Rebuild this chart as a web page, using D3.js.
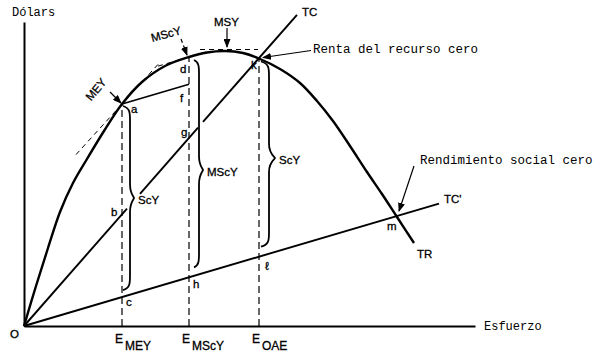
<!DOCTYPE html>
<html><head><meta charset="utf-8">
<script src="https://cdn.jsdelivr.net/npm/d3@7"></script>
<style>
body{margin:0;background:#fff}
svg{display:block}
.mono{font-family:"Liberation Mono","DejaVu Sans Mono",monospace;font-size:12.5px;fill:#000}
.sans{font-family:"Liberation Sans",Arial,sans-serif;font-size:11.5px;fill:#000;stroke:#000;stroke-width:0.3px}
</style>
</head><body>
<svg id="c" width="600" height="354"></svg>
<script>
// ---- data (arbitrary units) ----
const effort  = [0,1.2,2.4,3.6,4.9,6.3,8.0,9.8,11.8,14.1,16.5,18.3,20.1,21.9,23.5,25.6,27.6,29.3,30.9,32.6,34.3,35.8,37.3,39.0];
const revenue = [0,4.0,7.8,11.4,14.3,16.7,19.5,22.2,24.4,26.0,26.9,27.35,27.5,27.3,26.75,25.7,24.3,22.5,20.5,18.0,15.4,13.2,10.9,8.3];
const levelNames  = ["MEY","MScY","OAE"];
const levelEffort = [9.8,16.5,23.5];
const tcSlope = 1.14, tcEnd = 27.3;           // TC
const tcSegments = [[0,10.3],[11.6,17.4],[17.9,27.3]];
const tcpSlope = 0.295, tcpEnd = 41.5;        // TC'
const msyEffort = 20.3, msyRevenue = 27.65;
const eMSY = 27.5;

const svg = d3.select("#c");
const x = d3.scaleLinear([0,45.1],[24,475]);
const y = d3.scaleLinear([0,30.4],[326,22]);
const TR = d3.scaleLinear(effort, revenue);   // piecewise lookup along TR

// arrow marker
svg.append("defs").append("marker")
  .attr("id","arr").attr("markerUnits","userSpaceOnUse")
  .attr("markerWidth",9).attr("markerHeight",7).attr("refX",8).attr("refY",3.5)
  .attr("orient","auto")
  .append("path").attr("d","M0,0L9,3.5L0,7Z").attr("fill","#000");

// axes
svg.append("g").attr("transform","translate(0,326)")
  .call(d3.axisBottom(x).tickValues([]).tickSizeOuter(0));
svg.append("g").attr("transform","translate(24,0)")
  .call(d3.axisLeft(y).tickValues([]).tickSizeOuter(0));
svg.selectAll(".domain").attr("stroke","#000").attr("stroke-width",2);

const line = d3.line().x(d=>x(d[0])).y(d=>y(d[1]));

// vertical dashed lines
levelEffort.forEach(e=>{
  svg.append("path").attr("d",line([[e,0],[e,TR(e)]]))
    .attr("fill","none").attr("stroke","#000").attr("stroke-width",1.2)
    .attr("stroke-dasharray","7,4");
});

// tangents (dashed)
const eA = levelEffort[0], eD = levelEffort[1], eK = levelEffort[2];
const tang = [
  [[5.2, TR(eA)-1.1*(eA-5.2)],[13.4, TR(eA)+1.1*(13.4-eA)]],
  [[13.4, TR(eD)-tcpSlope*(eD-13.4)],[18.3, TR(eD)+tcpSlope*(18.3-eD)]],
  [[17.6, msyRevenue],[23.4, msyRevenue]]
];
tang.forEach(t=>svg.append("path").attr("d",line(t))
  .attr("fill","none").attr("stroke","#000").attr("stroke-width",1)
  .attr("stroke-dasharray","5,4"));

// TC (with gaps)
tcSegments.forEach(s=>svg.append("path")
  .attr("d",line([[s[0],tcSlope*s[0]],[s[1],tcSlope*s[1]]]))
  .attr("stroke","#000").attr("stroke-width",1.9));
// TC'
svg.append("path").attr("d",line([[0,0],[tcpEnd,tcpSlope*tcpEnd]]))
  .attr("stroke","#000").attr("stroke-width",1.9);
// a - f line (parallel to TC')
const fRev = TR(eA)+tcpSlope*(eD-eA);
svg.append("path").attr("d",line([[eA,TR(eA)],[eD,fRev]]))
  .attr("stroke","#000").attr("stroke-width",1.6);

// TR curve
svg.append("path").datum(effort.map((e,i)=>[e,revenue[i]]))
  .attr("d",line.curve(d3.curveCatmullRom.alpha(0.5)))
  .attr("fill","none").attr("stroke","#000").attr("stroke-width",2.4);
line.curve(d3.curveLinear);

// braces
function brace(x0,y1,y2,w,t,ym){
  const q = 14;
  return `M${x0},${y1} C${x0+w},${y1+2} ${x0+w},${y1+q*0.5} ${x0+w},${y1+q} `+
    `L${x0+w},${ym-q} C${x0+w},${ym-4} ${x0+w+t},${ym-1} ${x0+w+t},${ym} `+
    `C${x0+w+t},${ym+1} ${x0+w},${ym+4} ${x0+w},${ym+q} `+
    `L${x0+w},${y2-q} C${x0+w},${y2-q*0.5} ${x0+w},${y2-2} ${x0},${y2}`;
}
const braces = [
  {x0:x(eA)+1, y1:y(TR(eA))+2, y2:y(tcpSlope*eA)-7, w:7, t:4, ym:198, label:"ScY"},
  {x0:x(eD)+5, y1:y(TR(eD))+3, y2:y(tcpSlope*eD)-10, w:5, t:4, ym:170, label:"MScY"},
  {x0:x(eK)+2, y1:y(TR(eK))+3, y2:y(tcpSlope*eK)-10, w:8, t:6, ym:158, label:"ScY"}
];
braces.forEach(b=>{
  svg.append("path").attr("d",brace(b.x0,b.y1,b.y2,b.w,b.t,b.ym))
    .attr("fill","none").attr("stroke","#000").attr("stroke-width",1.8);
  svg.append("text").attr("class","sans").attr("x",b.x0+b.w+b.t+4).attr("y",b.ym+6).text(b.label);
});

// arrows
function arrow(x1,y1,x2,y2,dash){
  svg.append("line").attr("x1",x1).attr("y1",y1).attr("x2",x2).attr("y2",y2)
    .attr("stroke","#000").attr("stroke-width",1.2)
    .attr("stroke-dasharray",dash||null).attr("marker-end","url(#arr)");
}
const pa=[x(eA),y(TR(eA))], pd=[x(eD),y(TR(eD))], pk=[x(eK),y(TR(eK))];
const eM = 37.3, pm=[x(eM),y(tcpSlope*eM)];
arrow(pa[0]-12,pa[1]-12,pa[0]-1,pa[1]-1);
arrow(pd[0]-8,pd[1]-18,pd[0]-2,pd[1]-2,"4,3");
arrow(x(msyEffort),28,x(msyEffort),y(eMSY)-4);
arrow(pk[0]+52,pk[1]-8,pk[0]+4,pk[1]-1);
arrow(pm[0]+17,pm[1]-50,pm[0]+2,pm[1]-5);

// text
const T=(cls,xx,yy,s)=>svg.append("text").attr("class",cls).attr("x",xx).attr("y",yy).text(s);
T("mono",12,16,"Dólars").style("font-size","12px");
T("mono",484,330,"Esfuerzo").style("font-size","12px");
T("mono",313,53,"Renta del recurso cero");
T("mono",420,164,"Rendimiento social cero");
T("sans",302,16,"TC");
T("sans",444,203,"TC'");
T("sans",417,258,"TR");
T("sans",214,26,"MSY");
T("sans",10,338,"O");
svg.append("text").attr("class","sans").attr("text-anchor","middle")
  .attr("transform","translate(167,38) rotate(-15)").text("MScY");
svg.append("text").attr("class","sans").attr("text-anchor","middle")
  .attr("transform","translate(99,92) rotate(-50)").text("MEY");

// point labels
const pts = [
  ["a",pa[0]+9,pa[1]+9],
  ["b",x(eA)-11,y(tcSlope*eA)+2],
  ["c",x(eA)+4,y(tcpSlope*eA)+9],
  ["d",pd[0]-9,pd[1]+16],
  ["f",x(eD)-9,y(fRev)+18],
  ["g",x(eD)-8,y(tcSlope*eD)-2],
  ["h",x(eD)+4,y(tcpSlope*eD)+11],
  ["k",pk[0]-8,pk[1]+10],
  ["ℓ",x(eK)+6,y(tcpSlope*eK)+13],
  ["m",pm[0]-10,pm[1]+14]
];
pts.forEach(p=>T("sans",p[1],p[2],p[0]));

// E labels with subscripts
levelEffort.forEach((e,i)=>{
  const t = svg.append("text").attr("class","sans").attr("x",x(e)-7).attr("y",343).style("font-size","12px");
  t.append("tspan").text("E");
  t.append("tspan").attr("dx",2).attr("dy",7).text(levelNames[i]);
});
</script>
</body></html>
